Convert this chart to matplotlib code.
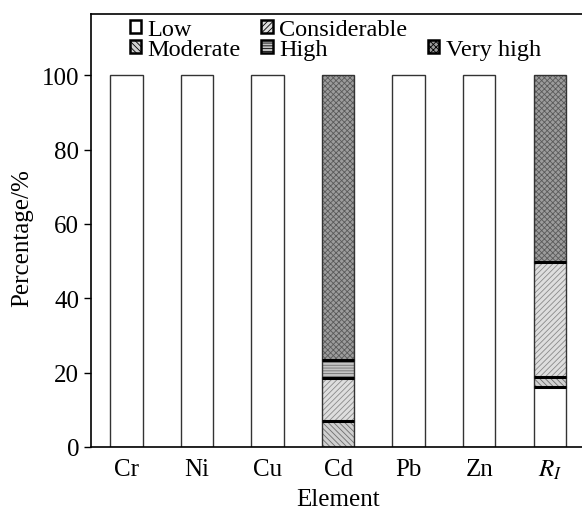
import numpy as np
import matplotlib.pyplot as plt
from matplotlib.patches import Patch

plt.rcParams['font.family'] = ['Liberation Serif', 'DejaVu Serif']
plt.rcParams['mathtext.fontset'] = 'stix'
plt.rcParams['hatch.linewidth'] = 0.6

elements = ['Cr', 'Ni', 'Cu', 'Cd', 'Pb', 'Zn', '$R_I$']
low = [100, 100, 100, 0, 100, 100, 16.2]
moderate = [0, 0, 0, 6.9, 0, 0, 2.5]
considerable = [0, 0, 0, 11.6, 0, 0, 31.0]
high = [0, 0, 0, 4.8, 0, 0, 0]
very_high = [0, 0, 0, 76.7, 0, 0, 50.3]
levels = ['Low', 'Moderate', 'Considerable', 'High', 'Very high']

series = [low, moderate, considerable, high, very_high]
faces = ['white', '#d0d0d0', '#dedede', '#c4c4c4', '#9c9c9c']
hatch_cols = ['white', '#6e6e6e', '#8a8a8a', '#707070', '#5a5a5a']
hatches = [None, '\\\\\\\\\\\\', '//////', '------', 'xxxxxx']

fig = plt.figure(figsize=(5.82, 5.10), dpi=100)
ax = fig.add_axes([0.1564, 0.1216, 0.849, 0.8494])

x = np.arange(len(elements))
w = 0.46
bottom = np.zeros(len(elements))
handles = []
for vals, fc, hc, h, name in zip(series, faces, hatch_cols, hatches, levels):
    vals = np.array(vals, dtype=float)
    m = vals > 0
    ax.bar(x[m], vals[m], w, bottom=bottom[m], color=fc, edgecolor=hc, linewidth=0, hatch=h)
    ax.bar(x[m], vals[m], w, bottom=bottom[m], fill=False, edgecolor='#333333', linewidth=1.0)
    # thick black separators between stacked levels
    for xi, b in zip(x[m], bottom[m]):
        if b > 0:
            ax.hlines(b, xi - w / 2, xi + w / 2, color='black', linewidth=2.2, zorder=5)
    bottom += vals
    handles.append(Patch(facecolor=fc, edgecolor='black', hatch=h, linewidth=1.8, label=name))

blank = Patch(facecolor='none', edgecolor='none', label=' ')
leg_handles = handles[:4] + [blank, handles[4]]
ax.legend(handles=leg_handles, ncol=3, loc='upper left', bbox_to_anchor=(0.078, 0.988),
          frameon=False, fontsize=17.5, handlelength=0.46, handleheight=0.46,
          handletextpad=0.28, columnspacing=0.85, labelspacing=-0.05, borderpad=0,
          borderaxespad=0)

ax.set_xlim(-0.5, 6.5)
ax.set_ylim(0, 116.5)
ax.set_yticks([0, 20, 40, 60, 80, 100])
ax.set_xticks(x)
ax.set_xticklabels(elements)
ax.tick_params(axis='y', direction='out', length=5, labelsize=18, width=1)
ax.tick_params(axis='x', length=0, labelsize=18, pad=8)
ax.set_xlabel('Element', fontsize=18, labelpad=5)
ax.set_ylabel('Percentage/%', fontsize=18)
ax.yaxis.set_label_coords(-0.118, 0.485)
for s in ax.spines.values():
    s.set_linewidth(1.2)

fig.savefig('out.png', dpi=100)
